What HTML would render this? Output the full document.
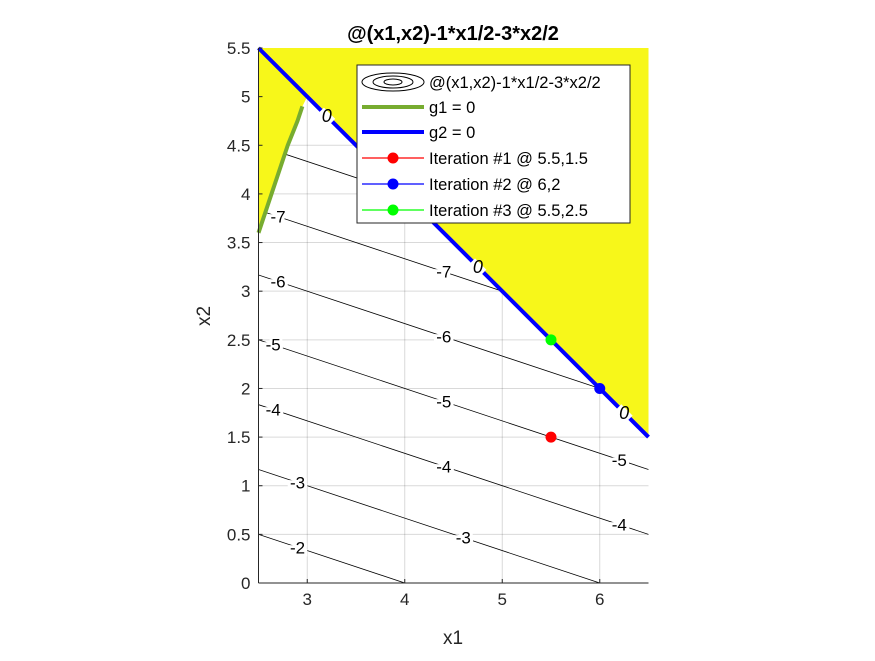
<!DOCTYPE html>
<html><head><meta charset="utf-8"><style>
body{margin:0;background:#fff;}
svg{font-family:"Liberation Sans",sans-serif;}
</style></head><body>
<svg width="875" height="656" viewBox="0 0 875 656">
<g id="root"></g>
</svg>
<script>
const xTicks=[3,4,5,6];
const yTicks=[0,0.5,1,1.5,2,2.5,3,3.5,4,4.5,5,5.5];
const levels=[-2,-3,-4,-5,-6,-7,-8,-9];
const g1X=[2.5,2.6,2.7,2.8,2.9,2.95];
const g1Y=[3.6,3.9,4.2,4.5,4.75,4.9];
const g2X=[2.5,6.5];
const g2Y=[5.5,1.5];
const iterNames=["Iteration #1 @ 5.5,1.5","Iteration #2 @ 6,2","Iteration #3 @ 5.5,2.5"];
const iterX=[5.5,6,5.5];
const iterY=[1.5,2,2.5];
const iterColors=["#ff0000","#0000ff","#00ff00"];
const labelX1=[[2.9],[2.9,4.6],[2.65,4.4,6.2],[2.65,4.4,6.2],[2.7,4.4],[2.7,4.4]];
const X0=2.5,X1=6.5,Y0=0,Y1=5.5,PL=258.5,PR=648.5,PT=48,PB=583;
const sx=v=>PL+(v-X0)/(X1-X0)*(PR-PL);
const sy=v=>PB-(v-Y0)/(Y1-Y0)*(PB-PT);
const NS="http://www.w3.org/2000/svg";
const root=document.getElementById('root');
function mk(t,a,p){const e=document.createElementNS(NS,t);for(const k in a)e.setAttribute(k,a[k]);(p||root).appendChild(e);return e;}
const bg=mk('rect',{x:PL,y:PT,width:PR-PL,height:PB-PT,fill:'#f7f71a'});


let pts=[];
for(let i=0;i<g1X.length;i++)pts.push(sx(g1X[i])+','+sy(g1Y[i]));
pts.push(sx(3.0)+','+sy(5.0));
pts.push(sx(6.5)+','+sy(1.5));
pts.push(sx(6.5)+','+sy(0));
pts.push(sx(2.5)+','+sy(0));
const fp=mk('polygon',{points:pts.join(' '),fill:'#fff'});


const defs=mk('defs',{});
const cp=mk('clipPath',{id:'feas'},defs);
mk('polygon',{points:pts.join(' ')},cp);
xTicks.forEach(v=>{const l=mk('line',{x1:sx(v),x2:sx(v),y1:PT,y2:PB,stroke:'#000','stroke-opacity':0.15,'stroke-width':1,'clip-path':'url(#feas)'});});
yTicks.forEach(v=>{const l=mk('line',{x1:PL,x2:PR,y1:sy(v),y2:sy(v),stroke:'#000','stroke-opacity':0.15,'stroke-width':1,'clip-path':'url(#feas)'});});
const cg=mk('g',{'clip-path':'url(#feas)'});


levels.forEach((c,i)=>{
  const f=x=>(-2*c-x)/3;
  const l=mk('line',{x1:sx(X0),y1:sy(f(X0)),x2:sx(X1),y2:sy(f(X1)),stroke:'#000','stroke-width':0.8},cg);
  
  
  (labelX1[i]||[]).forEach(xx=>{
    const t=mk('text',{x:sx(xx),y:sy(f(xx))+6,'font-size':17,'text-anchor':'middle',stroke:'#fff','stroke-width':6,'paint-order':'stroke',fill:'#000'});
    t.textContent=String(c);
    
    
  });
});
const g1=mk('polyline',{points:g1X.map((x,i)=>sx(x)+','+sy(g1Y[i])).join(' '),fill:'none',stroke:'#77ac30','stroke-width':4});


const g2=mk('line',{x1:sx(g2X[0]),y1:sy(g2Y[0]),x2:sx(g2X[1]),y2:sy(g2Y[1]),stroke:'#0000ff','stroke-width':4});


const ang=Math.atan2(sy(g2Y[1])-sy(g2Y[0]),sx(g2X[1])-sx(g2X[0]))*180/Math.PI;
[3.2,4.75,6.25].forEach(xx=>{
  const X=sx(xx),Y=sy(8-xx);
  mk('rect',{x:X-8,y:Y-4,width:16,height:8,fill:'#fff',transform:`rotate(${ang} ${X} ${Y})`});
  const t=mk('text',{x:X,y:Y+6,'font-size':18,'font-style':'italic','text-anchor':'middle',fill:'#000'});
  t.textContent='0';
  
  
});
iterX.forEach((x,i)=>{const c=mk('circle',{cx:sx(x),cy:sy(iterY[i]),r:5.5,fill:iterColors[i]});});
const xa=mk('line',{x1:PL,x2:PR,y1:PB,y2:PB,stroke:'#262626','stroke-width':1});

const ya=mk('line',{x1:PL,x2:PL,y1:PT,y2:PB,stroke:'#262626','stroke-width':1});

xTicks.forEach(v=>{mk('line',{x1:sx(v),x2:sx(v),y1:PB,y2:PB-4,stroke:'#262626'});const t=mk('text',{x:sx(v),y:PB+22,'font-size':17,'text-anchor':'middle',fill:'#262626'});t.textContent=v;});
yTicks.forEach(v=>{mk('line',{x1:PL,x2:PL+4,y1:sy(v),y2:sy(v),stroke:'#262626'});const t=mk('text',{x:PL-8,y:sy(v)+6,'font-size':17,'text-anchor':'end',fill:'#262626'});t.textContent=v;});
const xt=mk('text',{x:453,y:644,'font-size':19,'text-anchor':'middle',fill:'#262626'});xt.textContent='x1';
const yt=mk('text',{x:0,y:0,'font-size':19,'text-anchor':'middle',fill:'#262626',transform:'translate(210 316) rotate(-90)'});yt.textContent='x2';
const tt=mk('text',{x:453,y:40,'font-size':20,'font-weight':'bold','text-anchor':'middle',fill:'#000'});tt.textContent='@(x1,x2)-1*x1/2-3*x2/2';
const lg=mk('g',{});


mk('rect',{x:357,y:65,width:273,height:158,fill:'#fff',stroke:'#262626','stroke-width':1},lg);
const rows=[82,107,132,158,184,210];
const ctr=mk('g',{},lg);
[[31,9],[20,6],[9,3]].forEach(r=>mk('ellipse',{cx:393,cy:rows[0],rx:r[0],ry:r[1],fill:'none',stroke:'#000','stroke-width':1},ctr));
mk('line',{x1:362,x2:424,y1:rows[1],y2:rows[1],stroke:'#77ac30','stroke-width':4},lg);
mk('line',{x1:362,x2:424,y1:rows[2],y2:rows[2],stroke:'#0000ff','stroke-width':4},lg);
iterColors.forEach((c,i)=>{const y=rows[3+i];mk('line',{x1:362,x2:424,y1:y,y2:y,stroke:c,'stroke-width':1.2},lg);mk('circle',{cx:393,cy:y,r:5.5,fill:c},lg);});
const names=['@(x1,x2)-1*x1/2-3*x2/2','g1 = 0','g2 = 0'].concat(iterNames);
names.forEach((n,i)=>{const t=mk('text',{x:429,y:rows[i]+6,'font-size':16.5,fill:'#000'},lg);t.textContent=n;});
</script>
</body></html>
